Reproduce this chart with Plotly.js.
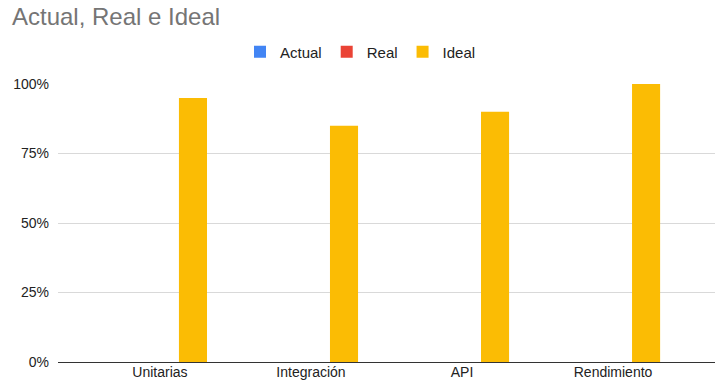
<!DOCTYPE html>
<html><head><meta charset="utf-8">
<script src="https://cdn.plot.ly/plotly-3.0.1.min.js"></script>
<style>html,body{margin:0;padding:0;background:#fff;}#chart{width:724px;height:392px;}</style>
</head><body><div id="chart"></div>
<script>
const categories = ["Unitarias", "Integración", "API", "Rendimiento"];
const actualValues = [0, 0, 0, 0];
const realValues = [0, 0, 0, 0];
const idealValues = [0.95, 0.85, 0.90, 1.00];
const yTickVals = [0, 0.25, 0.5, 0.75, 1];
const yTickText = ["0%", "25%", "50%", "75%", "100%"];

const font = "'Liberation Sans', Arial, sans-serif";
const mk = (name, y, color) => ({
  type: 'bar', name: name, x: categories, y: y,
  marker: {color: color}, hoverinfo: 'x+y'
});
const data = [
  mk('Actual', actualValues, '#4285f4'),
  mk('Real', realValues, '#ea4335'),
  mk('Ideal', idealValues, '#fbbc04')
];
const layout = {
  width: 724, height: 392,
  margin: {l: 58, r: 9, t: 84, b: 30},
  paper_bgcolor: '#fff', plot_bgcolor: '#fff',
  font: {family: font, size: 14, color: '#222'},
  title: {text: 'Actual, Real e Ideal', x: 12/724, xref: 'container', xanchor: 'left', y: 1 - 17/392, yref: 'container', yanchor: 'middle',
    font: {family: font, size: 24, color: '#757575'}},
  showlegend: true,
  legend: {orientation: 'h', xref: 'container', yref: 'container', x: 240/724, xanchor: 'left', y: 1 - 52/392, yanchor: 'middle',
    font: {family: font, size: 15, color: '#222'}, traceorder: 'normal'},
  barmode: 'group', bargap: 0.344, bargroupgap: 0.15,
  xaxis: {type: 'category', range: [-0.675, 3.675], showgrid: false, zeroline: false, showline: false,
    ticks: '', tickfont: {family: font, size: 14, color: '#222'}, fixedrange: true},
  yaxis: {range: [0, 1], tickvals: yTickVals, ticktext: yTickText, showgrid: true, gridcolor: '#d9d9d9', gridwidth: 1,
    zeroline: true, zerolinecolor: '#333', zerolinewidth: 1, ticks: '', tickfont: {family: font, size: 14, color: '#222'},
    showline: false, fixedrange: true, automargin: false, ticklabelstandoff: 8}
};
Plotly.newPlot('chart', data, layout, {displayModeBar: false, staticPlot: true});
</script></body></html>
